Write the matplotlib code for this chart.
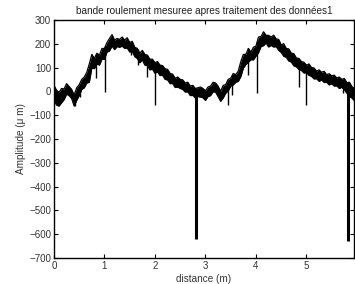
import numpy as np
import matplotlib.pyplot as plt

plt.rcParams['font.family'] = ['Liberation Sans', 'DejaVu Sans']

# --- data (distance in m, amplitude in micrometres) ---
dist = np.round(np.arange(120) * 0.05, 2)

upper = [25, 5, -5, 12, 10, 32, 20, 8, -15, 15,
         28, 50, 60, 80, 115, 155, 138, 160, 152, 180,
         180, 205, 222, 238, 215, 222, 218, 228, 215, 225,
         205, 210, 185, 180, 160, 172, 155, 152, 135, 135,
         120, 125, 110, 108, 95, 92, 75, 72, 55, 60,
         50, 48, 35, 38, 22, 25, 12, 15, 18, 12,
         2, 18, 22, 38, 35, 22, 0, 25, 28, 50,
         55, 75, 70, 85, 125, 155, 155, 180, 165, 185,
         190, 228, 230, 250, 235, 235, 228, 236, 220, 218,
         195, 200, 180, 178, 160, 158, 140, 138, 125, 122,
         110, 115, 100, 98, 85, 90, 80, 84, 70, 74,
         65, 68, 56, 60, 50, 54, 36, 38, 20, 12]

lower = [-35, -58, -62, -48, -35, -12, -18, -30, -62, -38,
         -18, 8, 15, 35, 38, 98, 95, 115, 110, 135,
         135, 165, 170, 190, 175, 188, 185, 190, 180, 182,
         165, 168, 145, 138, 120, 132, 110, 108, 90, 93,
         76, 82, 66, 68, 50, 48, 32, 33, 16, 18,
         12, 8, -3, -2, -18, -17, -28, -22, -24, -27,
         -38, -22, -18, -2, -3, -22, -42, -28, -8, 2,
         22, 27, 38, 42, 62, 97, 113, 122, 133, 132,
         148, 162, 188, 192, 203, 186, 193, 186, 188, 172,
         163, 147, 143, 127, 123, 107, 103, 92, 88, 77,
         78, 67, 63, 52, 53, 42, 48, 37, 38, 27,
         32, 22, 23, 12, 17, 7, -8, -22, -28, -40]

# narrow downward spikes: position and lowest value
spike_d = [0.41, 0.51, 0.84, 1.02, 1.53, 1.66, 1.84, 2.00, 2.82,
           3.44, 3.53, 3.85, 4.03, 4.86, 5.00, 5.73, 5.83]
spike_lo = [-62, -22, 55, -2, 153, 110, 60, -58, -620,
            -57, -15, 69, -8, 20, -57, -5, -630]
big = [-620, -630]

fig = plt.figure(figsize=(3.55, 2.84), dpi=100)
ax = fig.add_axes([0.152, 0.0915, 0.845, 0.8385])

ax.fill_between(dist, lower, upper, color='black', lw=0)
ax.plot(dist, upper, color='black', lw=0.9)
ax.plot(dist, lower, color='black', lw=0.9)

tops = np.interp(spike_d, dist, upper)
widths = [2.2 if lo in big else 1.0 for lo in spike_lo]
ax.vlines(spike_d, spike_lo, tops, colors='black', linewidths=widths)

ax.set_xlim(0, 5.94)
ax.set_ylim(-700, 300)
ax.set_xticks([0, 1, 2, 3, 4, 5])
ax.set_yticks(np.arange(-700, 301, 100))
ax.tick_params(direction='in', length=3, labelsize=7, top=True, right=True,
               color='black', labelcolor='#333333', pad=2)
for s in ax.spines.values():
    s.set_linewidth(1)

ax.set_title('bande roulement mesuree apres traitement des données1',
             fontsize=7.2, pad=4, color='#222222')
ax.set_xlabel('distance (m)', fontsize=7.2, labelpad=2, color='#333333')
ax.set_ylabel('Amplitude (μ m)', fontsize=7.2, labelpad=2, color='#333333')

fig.savefig('out.png', dpi=100)
